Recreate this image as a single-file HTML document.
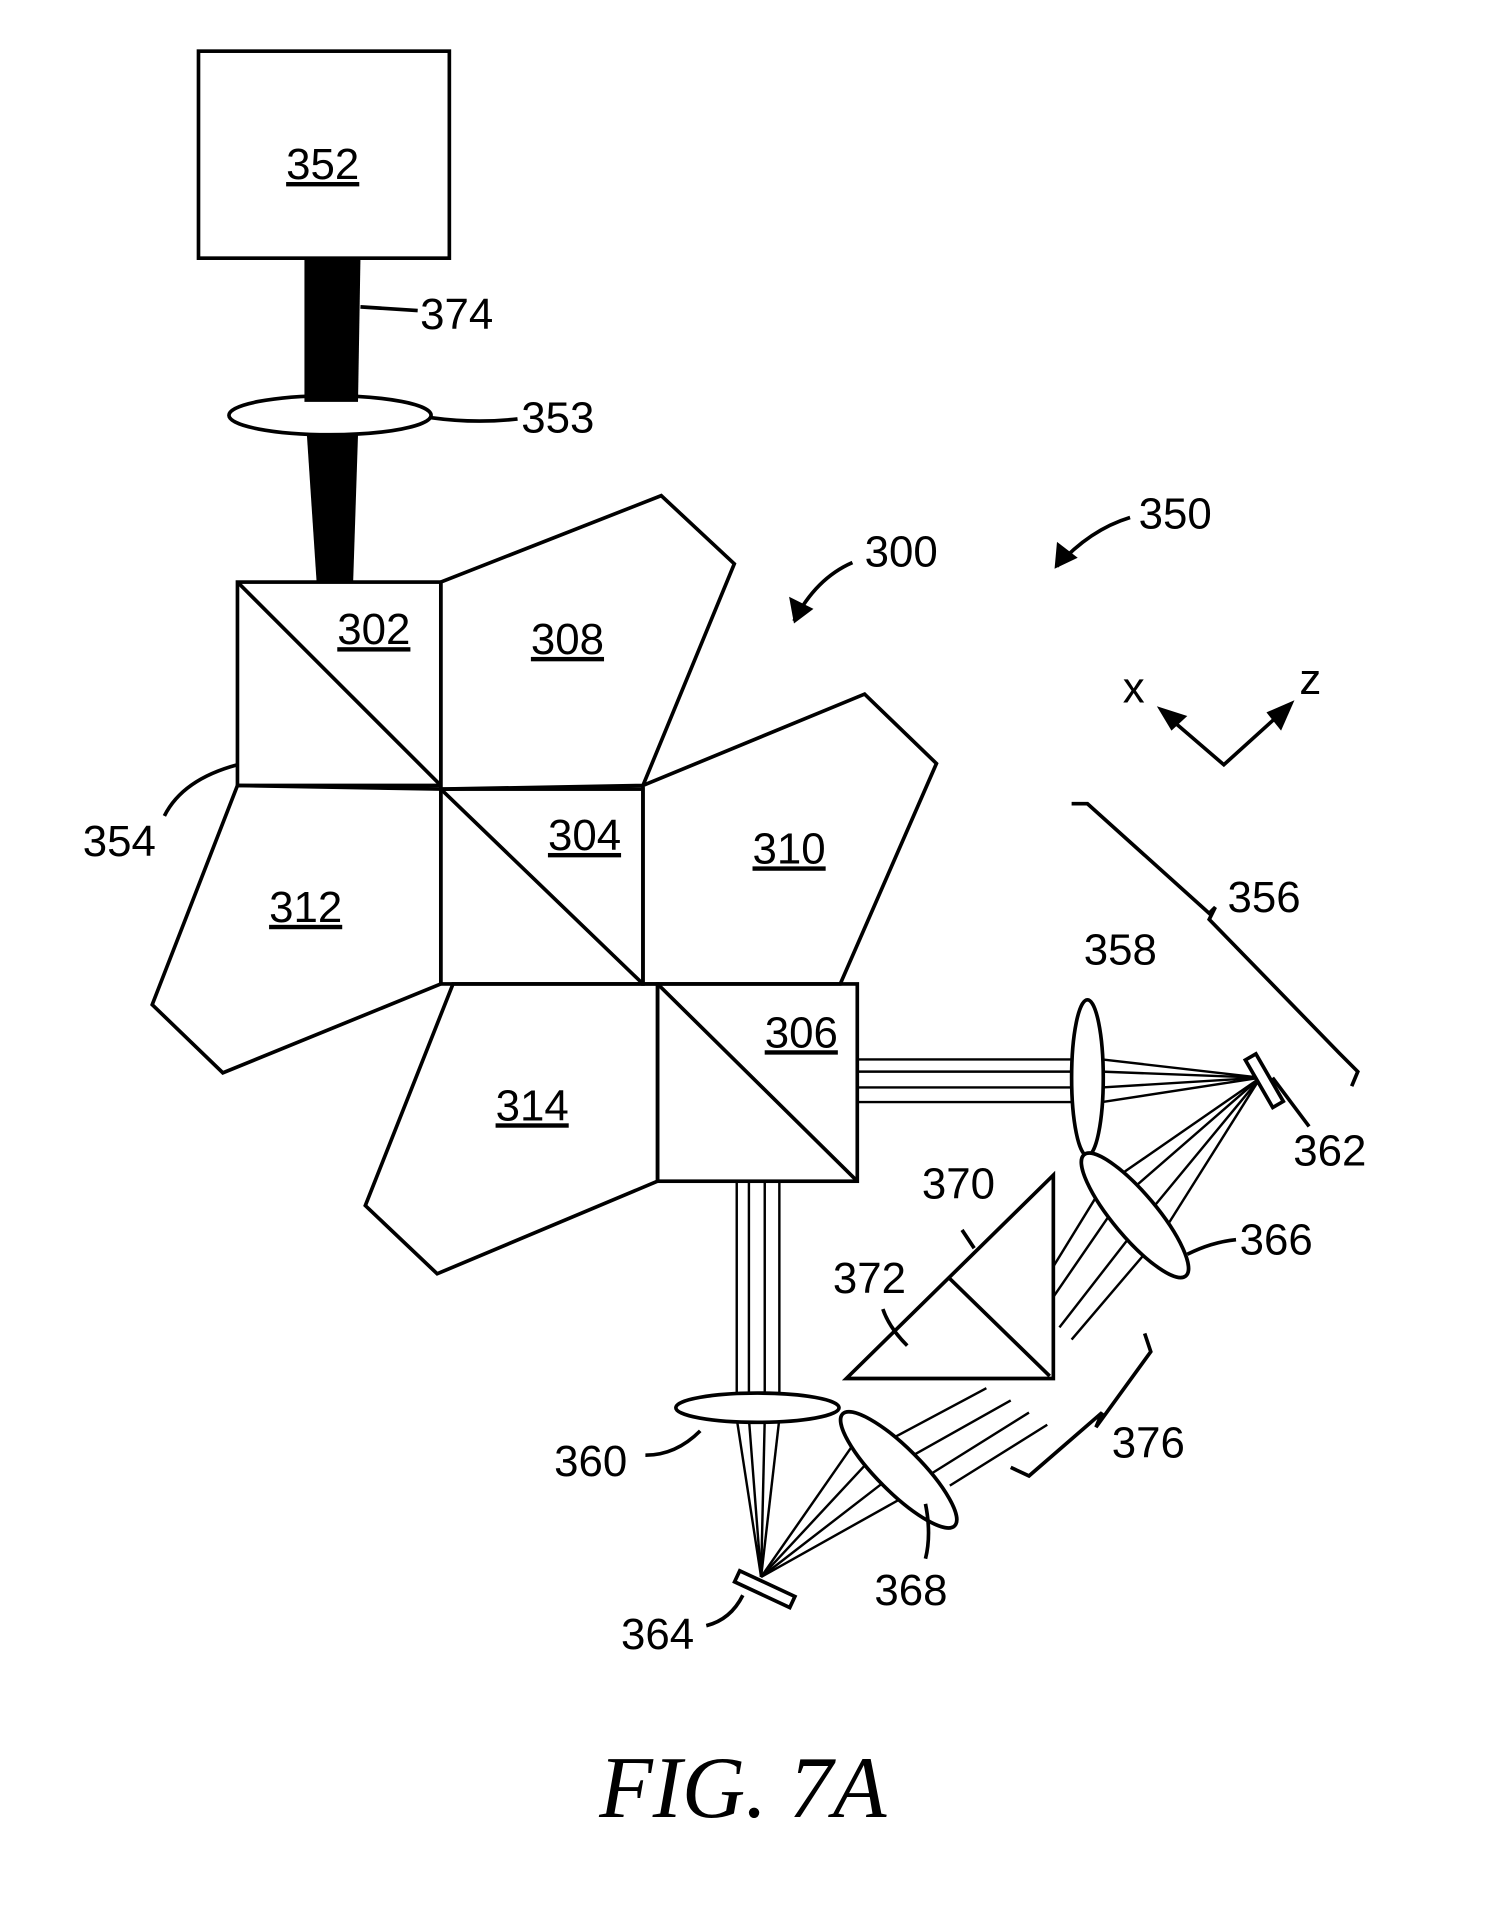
<!DOCTYPE html>
<html><head><meta charset="utf-8"><style>
html,body{margin:0;padding:0;background:#fff}
svg{display:block}
text{font-family:"Liberation Sans",sans-serif;font-size:36px;fill:#000}
</style></head><body>
<svg width="1510" height="1907" viewBox="0 0 1240 1566" xmlns="http://www.w3.org/2000/svg">
<g fill="none" stroke="#000" stroke-width="3">
<rect x="163" y="42" width="206" height="170"/>
<polygon points="362,478 543,407 603,463 528,645 362,648"/>
<polygon points="528,645 710,570 769,627 690,808 528,808"/>
<polygon points="195,645 362,648 362,808 183,881 125,825"/>
<polygon points="372,808 540,808 540,970 359,1046 300,990"/>
<rect x="195" y="478" width="167" height="167"/>
<line x1="195" y1="478" x2="362" y2="645"/>
<rect x="362" y="648" width="166" height="160"/>
<line x1="362" y1="648" x2="528" y2="808"/>
<rect x="540" y="808" width="164" height="162"/>
<line x1="540" y1="808" x2="704" y2="970"/>
<path d="M296,252 L343,255"/>
<path d="M354,343 Q390,348 425,344"/>
<path d="M195,628 Q150,640 135,670"/>
<path d="M700,462 Q670,475 652,510"/>
<path d="M928,425 Q895,435 868,465"/>
<path d="M955,585 L1005,628 L1058,580"/>
<path d="M880,660 L893,660 L993,750 L998,745 L993,755 L1100,865 L1115,880 L1110,892"/>
<g stroke-width="2">
<line x1="704" y1="870" x2="880" y2="870"/><line x1="704" y1="880" x2="880" y2="880"/>
<line x1="704" y1="893" x2="880" y2="893"/><line x1="704" y1="905" x2="880" y2="905"/>
<line x1="905" y1="870" x2="1035" y2="885"/><line x1="905" y1="880" x2="1035" y2="885"/>
<line x1="905" y1="893" x2="1035" y2="885"/><line x1="905" y1="905" x2="1035" y2="885"/>
<line x1="1035" y1="885" x2="905" y2="975"/><line x1="1035" y1="885" x2="920" y2="985"/>
<line x1="1035" y1="885" x2="940" y2="1000"/><line x1="1035" y1="885" x2="955" y2="1012"/>
<line x1="905" y1="975" x2="865" y2="1040"/><line x1="920" y1="985" x2="865" y2="1065"/>
<line x1="940" y1="1000" x2="870" y2="1090"/><line x1="955" y1="1012" x2="880" y2="1100"/>
<line x1="605" y1="970" x2="605" y2="1145"/><line x1="615" y1="970" x2="615" y2="1145"/>
<line x1="628" y1="970" x2="628" y2="1145"/><line x1="640" y1="970" x2="640" y2="1145"/>
<line x1="605" y1="1165" x2="625" y2="1295"/><line x1="615" y1="1165" x2="625" y2="1295"/>
<line x1="628" y1="1165" x2="625" y2="1295"/><line x1="640" y1="1165" x2="625" y2="1295"/>
<line x1="625" y1="1295" x2="705" y2="1180"/><line x1="625" y1="1295" x2="718" y2="1195"/>
<line x1="625" y1="1295" x2="735" y2="1210"/><line x1="625" y1="1295" x2="750" y2="1225"/>
<line x1="735" y1="1180" x2="810" y2="1140"/><line x1="750" y1="1195" x2="830" y2="1150"/>
<line x1="765" y1="1210" x2="845" y2="1160"/><line x1="780" y1="1220" x2="860" y2="1170"/>
</g>
<polygon points="695,1132 865,1132 865,965" fill="#fff"/>
<line x1="780" y1="1050" x2="862" y2="1130"/>
<path d="M800,1025 L790,1010"/><path d="M745,1105 Q730,1090 725,1075"/>
<ellipse cx="893" cy="885" rx="13" ry="64" fill="#fff"/>
<ellipse cx="932" cy="998" rx="65" ry="18" fill="#fff" transform="rotate(50 932 998)"/>
<ellipse cx="622" cy="1156" rx="67" ry="12" fill="#fff"/>
<ellipse cx="738" cy="1207" rx="65" ry="18" fill="#fff" transform="rotate(45 738 1207)"/>
<ellipse cx="271" cy="341" rx="83" ry="16" fill="#fff"/>
<rect x="1033" y="865" width="10" height="45" fill="#fff" transform="rotate(-30 1038 887)"/>
<rect x="603" y="1300" width="50" height="10" fill="#fff" transform="rotate(25 628 1305)"/>
<path d="M830,1205 L845,1212 L905,1160 L900,1172 L945,1110 L940,1095"/>
<path d="M1045,885 Q1060,905 1075,925"/>
<path d="M975,1030 Q995,1020 1015,1018"/>
<path d="M575,1175 Q555,1195 530,1195"/>
<path d="M610,1310 Q600,1330 580,1335"/>
<path d="M760,1235 Q765,1260 760,1280"/>
</g>
<polygon points="250,212 296,212 294,330 250,330" fill="#000"/>
<polygon points="252,357 294,357 290,478 260,478" fill="#000"/>
<polygon points="652,512 648,490 668,500" fill="#000"/>
<polygon points="866,467 868,445 885,458" fill="#000"/>
<polygon points="950,580 975,588 962,600" fill="#000"/>
<polygon points="1063,575 1040,585 1052,600" fill="#000"/>
<g text-decoration="underline">
<text x="265" y="147" text-anchor="middle">352</text>
<text x="307" y="529" text-anchor="middle">302</text>
<text x="466" y="537" text-anchor="middle">308</text>
<text x="480" y="698" text-anchor="middle">304</text>
<text x="648" y="709" text-anchor="middle">310</text>
<text x="251" y="757" text-anchor="middle">312</text>
<text x="658" y="860" text-anchor="middle">306</text>
<text x="437" y="920" text-anchor="middle">314</text>
</g>
<text x="345" y="270">374</text>
<text x="428" y="355">353</text>
<text x="710" y="465">300</text>
<text x="935" y="434">350</text>
<text x="68" y="703">354</text>
<text x="922" y="577">x</text>
<text x="1067" y="570">z</text>
<text x="1008" y="749">356</text>
<text x="890" y="792">358</text>
<text x="1062" y="957">362</text>
<text x="757" y="984">370</text>
<text x="1018" y="1030">366</text>
<text x="684" y="1062">372</text>
<text x="455" y="1212">360</text>
<text x="913" y="1197">376</text>
<text x="718" y="1318">368</text>
<text x="510" y="1354">364</text>
<text x="610" y="1492" text-anchor="middle" style="font-family:'Liberation Serif',serif;font-style:italic;font-size:72px">FIG. 7A</text>
</svg>
</body></html>
